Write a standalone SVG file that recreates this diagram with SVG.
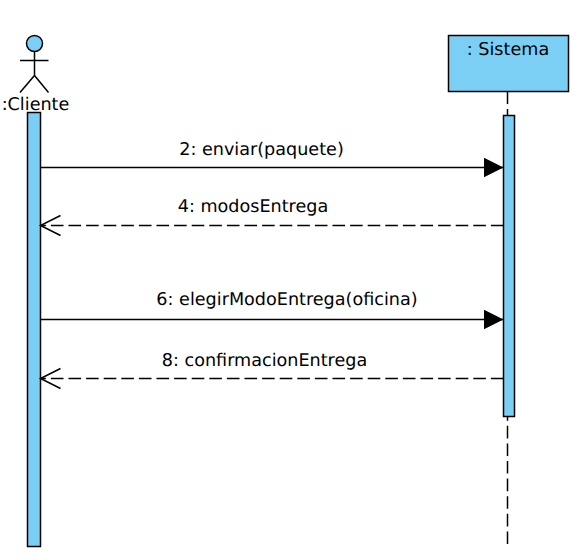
<svg xmlns="http://www.w3.org/2000/svg" width="584" height="560" viewBox="0 0 584 560">
<style>
.f{fill:#7bcff5;stroke:#000;stroke-width:1.5}
.l{fill:none;stroke:#000;stroke-width:1.5}
.d{stroke-dasharray:12.6 5}
text{font-family:"DejaVu Sans",sans-serif;font-size:17.6px;fill:#000;text-anchor:middle;text-rendering:geometricPrecision}
</style>
<defs>
<marker id="solid" markerUnits="userSpaceOnUse" markerWidth="20" markerHeight="20" refX="20" refY="10" orient="auto"><path d="M0 0L20 10L0 20Z" fill="#000"/></marker>
<marker id="open" markerUnits="userSpaceOnUse" markerWidth="22" markerHeight="22" refX="20" refY="10" orient="auto" overflow="visible"><path d="M0 0L20 10L0 20" fill="none" stroke="#000" stroke-width="1.5"/></marker>
</defs>
<g id="cliente">
<circle class="f" cx="34.500" cy="43.500" r="8"/>
<path class="l" d="M34.500 51.500V75.500M20 60.500H48.500M20 92.500L34.500 75.500L48.500 92.500"/>
<text x="35.500" y="110">:Cliente</text>
<rect class="f" x="27.500" y="112.500" width="13" height="434"/>
</g>
<g id="sistema">
<rect class="f" x="448.500" y="35.500" width="120" height="56"/>
<text x="508" y="54.500">: Sistema</text>
<path class="l d" d="M507.500 91.500V115.500M507.500 544V416"/>
<rect class="f" x="503.500" y="115.500" width="11" height="301"/>
</g>
<g id="connectors">
<path class="l" d="M40.500 167.500H503.500" marker-end="url(#solid)"/>
<path class="l d" d="M503.500 225.500H40.500" marker-end="url(#open)"/>
<path class="l" d="M40.500 319.500H503.500" marker-end="url(#solid)"/>
<path class="l d" d="M503.500 378.500H40.500" marker-end="url(#open)"/>
<text x="261.500" y="155">2: enviar(paquete)</text>
<text x="253" y="212">4: modosEntrega</text>
<text x="287" y="305">6: elegirModoEntrega(oficina)</text>
<text x="264.500" y="366">8: confirmacionEntrega</text>
</g>
</svg>
